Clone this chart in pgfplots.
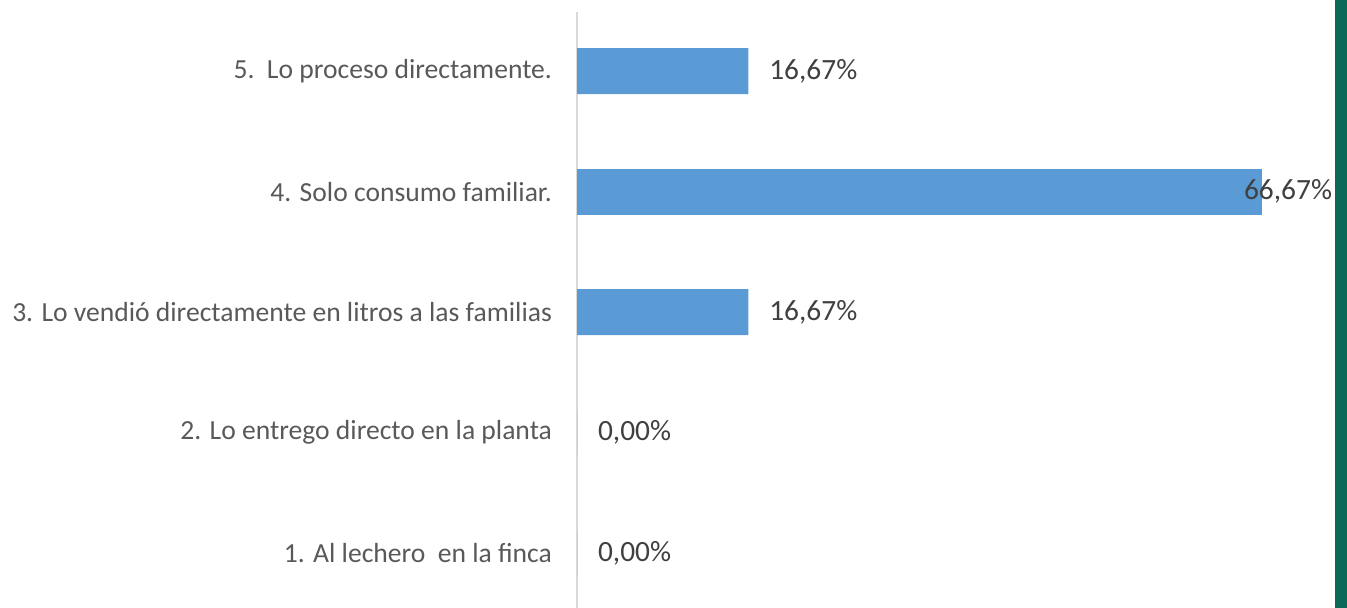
\documentclass[border=0pt]{standalone}
\usepackage{fontspec}
\setmainfont{Carlito}
\usepackage{pgfplots}
\pgfplotsset{compat=1.18}
\definecolor{barblue}{HTML}{5B9BD5}
\definecolor{axisgray}{HTML}{D9D9D9}
\definecolor{labelink}{HTML}{595959}
\definecolor{valueink}{HTML}{404040}
\definecolor{stripe}{HTML}{0A6A57}

\begin{document}
\begin{tikzpicture}
\path[use as bounding box] (0,0) rectangle (673.5pt,304pt);
\fill[stripe] (667.5pt,0) rectangle (673.5pt,304pt);
\begin{axis}[
    at={(288.5pt,0pt)}, anchor=south west,
    scale only axis,
    width=375pt, height=298pt,
    xbar, bar width=23pt, bar shift=0pt,
    xmin=0, xmax=73,
    ymin=-0.456, ymax=4.49,
    axis x line=none,
    axis y line=left,
    axis line style={-, draw=axisgray, line width=1.3pt},
    ytick={0,1,2,3,4},
    yticklabels={
        1. Al lechero\ \ en la finca,
        2. Lo entrego directo en la planta,
        3. Lo vendió directamente en litros a las familias,
        4. Solo consumo familiar.,
        5.\ \ Lo proceso directamente.},
    major tick length=0pt,
    yticklabel style={font=\fontsize{13.8}{16}\selectfont, color=labelink, xshift=-9pt},
    clip=false,
    /pgf/number format/fixed,
    /pgf/number format/fixed zerofill,
    /pgf/number format/precision=2,
    /pgf/number format/use comma,
    /pgf/number format/assume math mode=true,
    nodes near coords={\pgfmathprintnumber{\pgfplotspointmeta}\%},
    nodes near coords style={font=\fontsize{14.7}{17}\selectfont, color=valueink,
        anchor=west, xshift=7pt},
]
\addplot[fill=barblue, draw=none] coordinates {(0,0) (0,1) (16.67,2) (16.67,4)};
\addplot[fill=barblue, draw=none, nodes near coords style={xshift=-19.5pt}] coordinates {(66.67,3)};
\end{axis}
\end{tikzpicture}
\end{document}
